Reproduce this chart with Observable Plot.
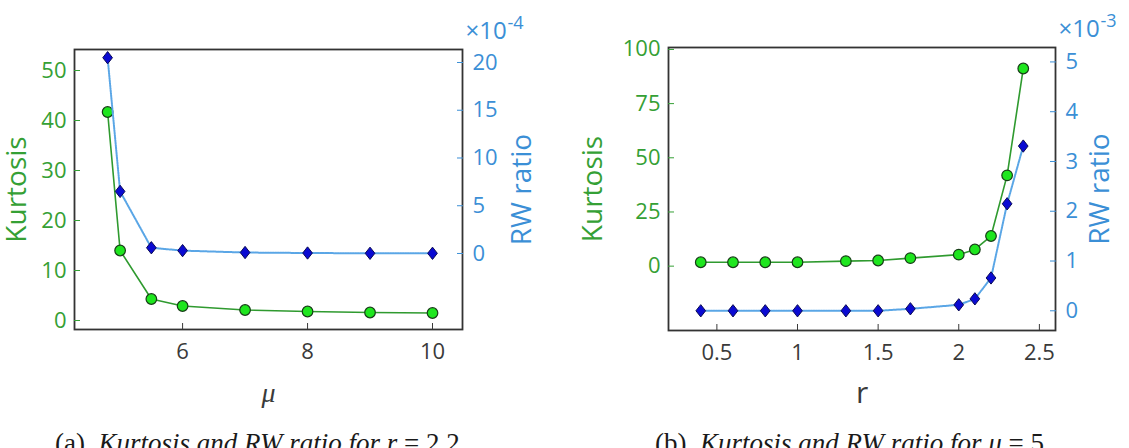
<!DOCTYPE html>
<html><head><meta charset="utf-8">
<script src="https://cdn.jsdelivr.net/npm/d3@7"></script>
<script src="https://cdn.jsdelivr.net/npm/@observablehq/plot@0.6"></script>
<style>
html,body{margin:0;padding:0;background:#fff}
body{width:1129px;height:448px;overflow:hidden;position:relative;font-family:"Open Sans",sans-serif}
.layer{position:absolute;left:0;top:0}
.cap{position:absolute;top:430px;line-height:1;font-family:"Liberation Serif",serif;font-size:27px;white-space:nowrap;color:#1a1a1a}
.cap i{font-style:italic}
</style></head><body>
<div class="cap" id="capA" style="left:55px">(a)&nbsp; <i>Kurtosis and RW ratio for r</i> = 2.2</div>
<div class="cap" id="capB" style="left:655px">(b)&nbsp; <i>Kurtosis and RW ratio for μ</i> = 5</div>
<script>
// ---- data: panel (a), r = 2.2 ----
const muValues   = [4.8, 5.0, 5.5, 6, 7, 8, 9, 10];
const kurtosisMu = [41.7, 14.0, 4.3, 2.9, 2.1, 1.8, 1.6, 1.5];
const rwMu       = [20.5, 6.5, 0.6, 0.3, 0.1, 0.05, 0.02, 0.02]; // ×10^-4

// ---- data: panel (b), mu = 5 ----
const rValues   = [0.4, 0.6, 0.8, 1.0, 1.3, 1.5, 1.7, 2.0, 2.1, 2.2, 2.3, 2.4];
const kurtosisR = [1.8, 1.8, 1.8, 1.8, 2.3, 2.6, 3.7, 5.3, 7.7, 13.9, 41.9, 91.2];
const rwR       = [0, 0, 0, 0, 0, 0, 0.04, 0.12, 0.24, 0.66, 2.15, 3.31]; // ×10^-3

// ---- tick labels ----
const muTicks = [6, 8, 10];
const kurtTicksA = [0, 10, 20, 30, 40, 50];
const rwTicksA = [0, 5, 10, 15, 20];
const rTicks = [0.5, 1, 1.5, 2, 2.5];
const kurtTicksB = [0, 25, 50, 75, 100];
const rwTicksB = [0, 1, 2, 3, 4, 5];
const expA = "-4", expB = "-3";

const tableA = muValues.map((mu, i) => ({x: mu, kurtosis: kurtosisMu[i], rw: rwMu[i]}));
const tableB = rValues.map((r, i) => ({x: r, kurtosis: kurtosisR[i], rw: rwR[i]}));

const W = 1129, H = 448;
const green = "#35a035", blue = "#3b8fd6";
const fmt = d => String(d);
const tallDiamond = {
  draw(ctx, size) {
    const r = Math.sqrt(size / Math.PI), h = r * 1.12, w = r * 0.88;
    ctx.moveTo(0, -h); ctx.lineTo(w, 0); ctx.lineTo(0, h); ctx.lineTo(-w, 0); ctx.closePath();
  }
};

function layer(opts) {
  const el = Plot.plot({
    width: W, height: H,
    style: {background: "transparent", fontFamily: "Open Sans", fontSize: "22px", overflow: "visible"},
    ...opts
  });
  el.classList.add("layer");
  document.body.appendChild(el);
}

function panel(cfg) {
  const {table, xDomain, kDomain, rDomain, xTicks, kTicks, rTicks2, ml, mr, mt, mb, xLabel, xLabelStyle, xLabelDy, kDx, rDx, exp} = cfg;
  // left-axis layer: kurtosis
  layer({
    marginLeft: ml, marginRight: mr, marginTop: mt, marginBottom: mb,
    x: {domain: xDomain},
    y: {domain: kDomain},
    marks: [
      Plot.frame({stroke: "#333", strokeWidth: 1.8}),
      Plot.axisX(xTicks, {anchor: "bottom", tickSize: -6, tickPadding: 20, tickFormat: fmt, color: "#3a3a3a", fontSize: 22, label: null}),
      Plot.axisY(kTicks, {anchor: "left", tickSize: -6, tickPadding: 14, tickFormat: fmt, color: green, fontSize: 22, label: null}),
      Plot.line(table, {x: "x", y: "kurtosis", stroke: "#2f9a2f", strokeWidth: 1.6}),
      Plot.dot(table, {x: "x", y: "kurtosis", r: 5.3, fill: "#1ee61e", stroke: "#173d17", strokeWidth: 1.2}),
      Plot.text(["Kurtosis"], {text: d => d, frameAnchor: "left", textAnchor: "middle", lineAnchor: "middle", rotate: -90, dx: kDx, fill: green, fontSize: 28}),
      Plot.text([xLabel], {text: d => d, frameAnchor: "bottom", textAnchor: "middle", lineAnchor: "bottom", dy: xLabelDy, fill: "#3a3a3a", ...xLabelStyle})
    ]
  });
  // right-axis layer: RW ratio
  layer({
    marginLeft: ml, marginRight: mr, marginTop: mt, marginBottom: mb,
    x: {domain: xDomain, axis: null},
    y: {domain: rDomain},
    marks: [
      Plot.axisY(rTicks2, {anchor: "right", tickSize: -6, tickPadding: 16, tickFormat: fmt, color: blue, fontSize: 22, label: null}),
      Plot.line(table, {x: "x", y: "rw", stroke: "#5aa6e6", strokeWidth: 2, strokeDasharray: "1.5 1"}),
      Plot.dot(table, {x: "x", y: "rw", r: 5.5, symbol: tallDiamond, fill: "#0a0ad2", stroke: "#0a0a55", strokeWidth: 1}),
      Plot.text(["RW ratio"], {text: d => d, frameAnchor: "right", textAnchor: "middle", lineAnchor: "middle", rotate: -90, dx: rDx, fill: blue, fontSize: 28}),
      Plot.text(["×10"], {text: d => d, frameAnchor: "top-right", textAnchor: "start", lineAnchor: "middle", dx: 3, dy: -18, fill: blue, fontSize: 24}),
      Plot.text([exp], {text: d => d, frameAnchor: "top-right", textAnchor: "start", lineAnchor: "middle", dx: 45, dy: -26, fill: blue, fontSize: 18})
    ]
  });
}

panel({
  table: tableA, xDomain: [4.27, 10.48], kDomain: [-1.8, 54.2], rDomain: [-7.96, 21.36],
  xTicks: muTicks, kTicks: kurtTicksA, rTicks2: rwTicksA,
  ml: 74, mr: W - 462, mt: 49, mb: H - 329,
  xLabel: "μ", xLabelStyle: {fontFamily: "Liberation Serif", fontStyle: "italic", fontSize: 28}, xLabelDy: 72,
  kDx: -57, rDx: 60, exp: expA
});
panel({
  table: tableB, xDomain: [0.2, 2.6], kDomain: [-29.7, 100.9], rDomain: [-0.396, 5.29],
  xTicks: rTicks, kTicks: kurtTicksB, rTicks2: rwTicksB,
  ml: 668, mr: W - 1055, mt: 47, mb: H - 330,
  xLabel: "r", xLabelStyle: {fontSize: 30}, xLabelDy: 72,
  kDx: -75, rDx: 45, exp: expB
});
</script>
</body></html>
